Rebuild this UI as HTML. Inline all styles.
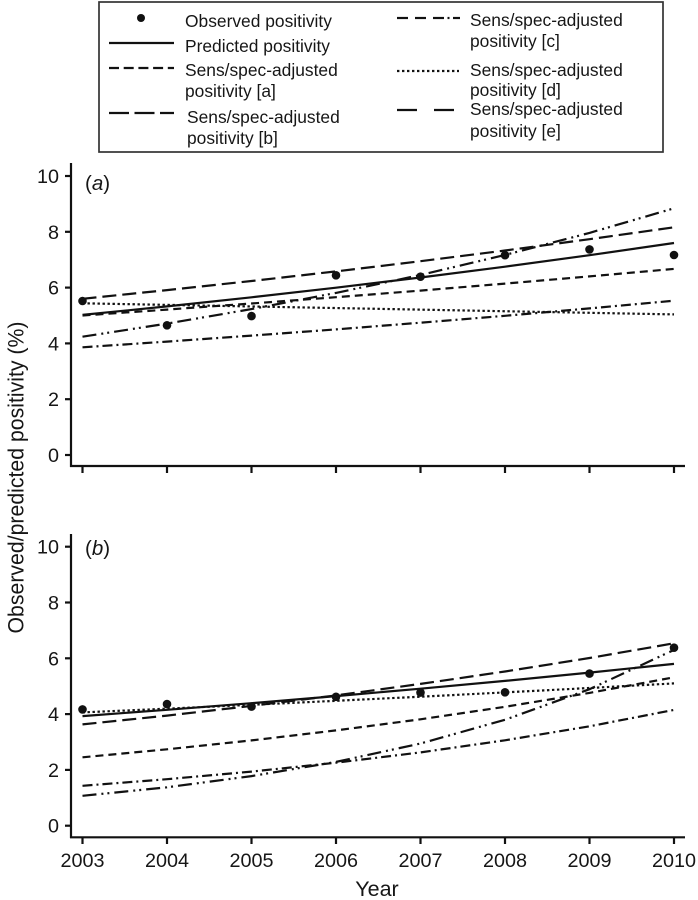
<!DOCTYPE html>
<html>
<head>
<meta charset="utf-8">
<style>
  html, body { margin:0; padding:0; background:#fff; }
  svg { display:block; }
  text { font-family: "Liberation Sans", Arial, sans-serif; fill:#161616; }
</style>
</head>
<body>
<svg width="698" height="900" viewBox="0 0 698 900" xmlns="http://www.w3.org/2000/svg">
  <rect x="0" y="0" width="698" height="900" fill="#fff"/>

  <!-- Legend -->
  <rect x="99" y="2" width="564" height="150" fill="none" stroke="#333" stroke-width="1.7"/>
  <g stroke="#111" stroke-width="2.2" fill="none">
    <line x1="109" y1="43" x2="174" y2="43"/>
    <line x1="109" y1="68" x2="174" y2="68" stroke-dasharray="10,4.7"/>
    <line x1="109" y1="113" x2="174" y2="113" stroke-dasharray="20,5.5"/>
    <!-- [c] -->
    <line x1="397" y1="18" x2="408" y2="18"/>
    <line x1="415" y1="18" x2="426" y2="18"/>
    <line x1="433" y1="18" x2="444" y2="18"/>
    <line x1="447.5" y1="18" x2="449.5" y2="18"/>
    <line x1="453" y1="18" x2="460" y2="18"/>
    <!-- [d] -->
    <line x1="397" y1="71" x2="459" y2="71" stroke-dasharray="2.4,2.6"/>
    <!-- [e] -->
    <line x1="397" y1="110" x2="417" y2="110"/>
    <line x1="434" y1="110" x2="454" y2="110"/>
  </g>
  <circle cx="141" cy="18" r="4" fill="#111"/>
  <g font-size="17.4">
    <text x="185" y="27">Observed positivity</text>
    <text x="185" y="52">Predicted positivity</text>
    <text x="185" y="76">Sens/spec-adjusted</text>
    <text x="185" y="97">positivity [a]</text>
    <text x="187" y="123">Sens/spec-adjusted</text>
    <text x="187" y="144">positivity [b]</text>
    <text x="470" y="26">Sens/spec-adjusted</text>
    <text x="470" y="47">positivity [c]</text>
    <text x="470" y="76">Sens/spec-adjusted</text>
    <text x="470" y="96">positivity [d]</text>
    <text x="470" y="115">Sens/spec-adjusted</text>
    <text x="470" y="137">positivity [e]</text>
  </g>

  <!-- Axes panel a -->
  <g stroke="#111" stroke-width="2.2" fill="none">
    <line x1="71" y1="163" x2="71" y2="467"/>
    <line x1="70" y1="466" x2="685" y2="466"/>
    <line x1="65" y1="455" x2="71" y2="455"/>
    <line x1="65" y1="399.2" x2="71" y2="399.2"/>
    <line x1="65" y1="343.4" x2="71" y2="343.4"/>
    <line x1="65" y1="287.6" x2="71" y2="287.6"/>
    <line x1="65" y1="231.8" x2="71" y2="231.8"/>
    <line x1="65" y1="176" x2="71" y2="176"/>
    <line x1="82.5" y1="466" x2="82.5" y2="473"/>
    <line x1="167" y1="466" x2="167" y2="473"/>
    <line x1="251.5" y1="466" x2="251.5" y2="473"/>
    <line x1="336" y1="466" x2="336" y2="473"/>
    <line x1="420.5" y1="466" x2="420.5" y2="473"/>
    <line x1="505" y1="466" x2="505" y2="473"/>
    <line x1="589.5" y1="466" x2="589.5" y2="473"/>
    <line x1="674" y1="466" x2="674" y2="473"/>
  </g>
  <g font-size="19.8" text-anchor="end">
    <text x="59" y="462">0</text>
    <text x="59" y="406.2">2</text>
    <text x="59" y="350.4">4</text>
    <text x="59" y="294.6">6</text>
    <text x="59" y="238.8">8</text>
    <text x="59" y="183">10</text>
  </g>
  <text x="85" y="190" font-size="20.5">(<tspan font-style="italic">a</tspan>)</text>

  <!-- Series panel a -->
  <g fill="none" stroke="#111" stroke-width="2.2">
    <path d="M82.5,314.9 L167,306.4 L251.5,297.3 L336,287.7 L420.5,277.5 L505,266.7 L589.5,255.2 L674,243.0"/>
    <path d="M82.5,298.8 L167,290.1 L251.5,281.0 L336,271.4 L420.5,261.2 L505,250.5 L589.5,239.2 L674,227.3" stroke-dasharray="14,6"/>
    <path d="M82.5,315.5 L167,309.6 L251.5,303.5 L336,297.2 L420.5,290.6 L505,283.6 L589.5,276.4 L674,268.9" stroke-dasharray="8,5"/>
    <path d="M82.5,336.7 L167,323.6 L251.5,309.1 L336,292.9 L420.5,275.0 L505,255.0 L589.5,232.9 L674,208.3" stroke-dasharray="14,5,2,4,2,5"/>
    <path d="M82.5,347.3 L167,341.6 L251.5,335.6 L336,329.4 L420.5,322.7 L505,315.8 L589.5,308.4 L674,300.7" stroke-dasharray="10,4,2,4"/>
    <path d="M82.5,303.3 L674,314.4" stroke-dasharray="2.4,2.6"/>
  </g>
  <g fill="#111">
    <circle cx="82.5" cy="301" r="4.3"/>
    <circle cx="167" cy="325.3" r="4.3"/>
    <circle cx="251.5" cy="316.1" r="4.3"/>
    <circle cx="336" cy="275.3" r="4.3"/>
    <circle cx="420.5" cy="276.7" r="4.3"/>
    <circle cx="505" cy="255.2" r="4.3"/>
    <circle cx="589.5" cy="249.4" r="4.3"/>
    <circle cx="674" cy="255" r="4.3"/>
  </g>

  <!-- Axes panel b -->
  <g stroke="#111" stroke-width="2.2" fill="none">
    <line x1="71" y1="534" x2="71" y2="838"/>
    <line x1="70" y1="837.3" x2="685" y2="837.3"/>
    <line x1="65" y1="825.7" x2="71" y2="825.7"/>
    <line x1="65" y1="769.9" x2="71" y2="769.9"/>
    <line x1="65" y1="714.1" x2="71" y2="714.1"/>
    <line x1="65" y1="658.3" x2="71" y2="658.3"/>
    <line x1="65" y1="602.5" x2="71" y2="602.5"/>
    <line x1="65" y1="546.7" x2="71" y2="546.7"/>
    <line x1="82.5" y1="837" x2="82.5" y2="844"/>
    <line x1="167" y1="837" x2="167" y2="844"/>
    <line x1="251.5" y1="837" x2="251.5" y2="844"/>
    <line x1="336" y1="837" x2="336" y2="844"/>
    <line x1="420.5" y1="837" x2="420.5" y2="844"/>
    <line x1="505" y1="837" x2="505" y2="844"/>
    <line x1="589.5" y1="837" x2="589.5" y2="844"/>
    <line x1="674" y1="837" x2="674" y2="844"/>
  </g>
  <g font-size="19.8" text-anchor="end">
    <text x="59" y="832.7">0</text>
    <text x="59" y="776.9">2</text>
    <text x="59" y="721.1">4</text>
    <text x="59" y="665.3">6</text>
    <text x="59" y="609.5">8</text>
    <text x="59" y="553.7">10</text>
  </g>
  <text x="85" y="555" font-size="20.5">(<tspan font-style="italic">b</tspan>)</text>
  <g font-size="19.8" text-anchor="middle">
    <text x="82.5" y="867">2003</text>
    <text x="167" y="867">2004</text>
    <text x="251.5" y="867">2005</text>
    <text x="336" y="867">2006</text>
    <text x="420.5" y="867">2007</text>
    <text x="505" y="867">2008</text>
    <text x="589.5" y="867">2009</text>
    <text x="674" y="867">2010</text>
  </g>
  <text x="377" y="896" font-size="21.5" text-anchor="middle">Year</text>
  <text transform="translate(23.3,477.5) rotate(-90)" font-size="22" text-anchor="middle" textLength="312" lengthAdjust="spacingAndGlyphs">Observed/predicted positivity (%)</text>

  <!-- Series panel b -->
  <g fill="none" stroke="#111" stroke-width="2.2">
    <path d="M82.5,716.1 L167,709.8 L251.5,703.2 L336,696.1 L420.5,688.7 L505,680.9 L589.5,672.6 L674,663.9"/>
    <path d="M82.5,724.4 L167,715.6 L251.5,705.9 L336,695.4 L420.5,683.9 L505,671.5 L589.5,658.0 L674,643.3" stroke-dasharray="14,6"/>
    <path d="M82.5,757.3 L167,749.3 L251.5,740.4 L336,730.4 L420.5,719.3 L505,706.8 L589.5,692.9 L674,677.3" stroke-dasharray="8,5"/>
    <path d="M82.5,712.4 L167,708.7 L251.5,704.8 L336,700.8 L420.5,696.7 L505,692.4 L589.5,688.0 L674,683.4" stroke-dasharray="2.4,2.6"/>
    <path d="M82.5,785.8 L167,779.2 L251.5,771.6 L336,762.7 L420.5,752.4 L505,740.3 L589.5,726.3 L674,709.9" stroke-dasharray="10,4,2,4"/>
    <path d="M82.5,795.8 L167,787.3 L251.5,776.1 L336,761.9 L420.5,743.5 L505,719.8 L589.5,689.2 L674,649.9" stroke-dasharray="14,5,2,4,2,5"/>
  </g>
  <g fill="#111">
    <circle cx="82.5" cy="709.4" r="4.3"/>
    <circle cx="167" cy="704.1" r="4.3"/>
    <circle cx="251.5" cy="706.6" r="4.3"/>
    <circle cx="336" cy="696.8" r="4.3"/>
    <circle cx="420.5" cy="692.6" r="4.3"/>
    <circle cx="505" cy="692.3" r="4.3"/>
    <circle cx="589.5" cy="673.6" r="4.3"/>
    <circle cx="674" cy="647.7" r="4.3"/>
  </g>
</svg>
</body>
</html>
